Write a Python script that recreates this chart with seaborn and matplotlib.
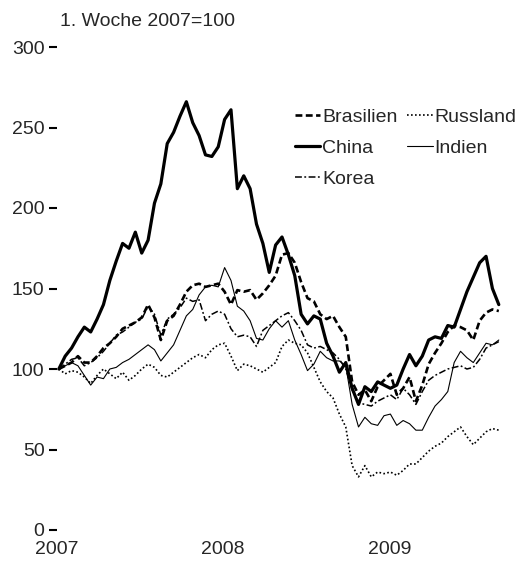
import numpy as np
import pandas as pd
import seaborn as sns
import matplotlib.pyplot as plt

# two-weekly index values, 1st week 2007 = 100
dates = pd.date_range("2007-01-05", periods=70, freq="14D")

brasilien = [100, 102, 104, 108, 104, 104, 108, 113, 116, 120, 125, 127, 129, 132, 140, 132, 118, 130,
             133, 140, 148, 152, 153, 151, 152, 153, 148, 140, 149, 148, 149, 143, 147, 152, 158, 171,
             172, 166, 154, 144, 142, 134, 131, 133, 126, 120, 92, 84, 87, 80, 89, 93, 97, 84,
             88, 95, 80, 90, 103, 110, 116, 123, 127, 126, 124, 118, 130, 135, 137, 136]
china = [100, 108, 113, 120, 126, 123, 131, 140, 155, 167, 178, 175, 185, 172, 180, 203, 215, 240,
         247, 257, 266, 253, 245, 233, 232, 238, 255, 261, 212, 220, 212, 190, 178, 160, 177, 182,
         171, 158, 134, 128, 133, 131, 116, 108, 98, 104, 88, 78, 89, 86, 92, 90, 88, 90,
         100, 109, 102, 108, 118, 120, 119, 127, 126, 137, 148, 157, 166, 170, 150, 140]
korea = [100, 103, 106, 107, 102, 104, 107, 111, 116, 121, 123, 126, 129, 131, 139, 134, 121, 131,
         134, 138, 144, 142, 143, 130, 134, 136, 134, 125, 120, 121, 120, 114, 124, 127, 130, 133,
         135, 130, 124, 115, 113, 114, 112, 110, 106, 100, 87, 79, 78, 77, 80, 82, 84, 81,
         88, 84, 78, 86, 93, 96, 98, 100, 101, 102, 100, 101, 106, 113, 115, 117]
russland = [100, 97, 99, 98, 95, 91, 96, 100, 97, 94, 98, 93, 96, 100, 103, 101, 96, 95,
            98, 101, 104, 107, 109, 107, 112, 115, 116, 108, 99, 103, 102, 100, 98, 101, 104, 114,
            118, 116, 115, 110, 101, 92, 86, 82, 72, 64, 40, 33, 40, 33, 36, 35, 36, 34,
            37, 41, 41, 45, 49, 52, 54, 58, 61, 64, 58, 53, 57, 61, 63, 62]
indien = [100, 102, 104, 102, 96, 90, 95, 94, 100, 101, 104, 106, 109, 112, 115, 112, 105, 110,
          115, 124, 133, 137, 146, 151, 152, 151, 163, 155, 139, 136, 130, 119, 118, 125, 130, 126,
          130, 118, 109, 99, 103, 111, 107, 105, 105, 102, 78, 64, 70, 66, 65, 71, 72, 65,
          68, 66, 62, 62, 70, 77, 81, 86, 104, 111, 107, 104, 110, 116, 115, 118]

y_ticks = [0, 50, 100, 150, 200, 250, 300]
year_ticks = ["2007", "2008", "2009"]

series = {
    "Brasilien": (brasilien, 1.9, (0, (2.6, 1.3))),
    "China": (china, 2.3, "-"),
    "Korea": (korea, 1.1, (0, (4.5, 1.6, 1.2, 1.6))),
    "Russland": (russland, 1.2, (0, (1, 1.4))),
    "Indien": (indien, 0.8, "-"),
}

sns.set_style("white")
plt.rcParams["font.family"] = ["Liberation Sans", "DejaVu Sans"]
fs = 14

fig = plt.figure(figsize=(5.2, 5.61), dpi=100)
ax = fig.add_axes([57 / 520, 31 / 561, 450 / 520, 483 / 561])

handles = {}
for name, (vals, lw, ls) in series.items():
    sns.lineplot(x=dates, y=vals, ax=ax, color="black", linewidth=lw, linestyle=ls, label=name)
    handles[name] = ax.get_lines()[-1]

ax.set_xlim(pd.Timestamp("2007-01-01"), pd.Timestamp("2009-09-15"))
ax.set_ylim(0, 300)
ax.set_yticks(y_ticks)
ax.set_xticks([pd.Timestamp(y + "-01-01") for y in year_ticks])
ax.set_xticklabels(year_ticks)
ax.set_xlabel("")
ax.set_ylabel("")
ax.tick_params(axis="y", left=True, length=6, width=1.5, direction="out", pad=3,
               labelsize=fs, color="black")
ax.tick_params(axis="x", bottom=False, length=0, pad=8, labelsize=fs)
sns.despine(left=True, bottom=True)

fig.text(60 / 520, 1 - 22 / 561, "1. Woche 2007=100", fontsize=fs, va="center", ha="left")

order = ["Brasilien", "China", "Korea", "Russland", "Indien"]
ax.legend([handles[n] for n in order], order, ncol=2, frameon=False, fontsize=fs,
          loc="upper left", bbox_to_anchor=(295 / 520, 1 - 108 / 561), bbox_transform=fig.transFigure,
          borderpad=0, borderaxespad=0, handlelength=1.3, handletextpad=0.1,
          columnspacing=0.5, labelspacing=0.7)

fig.savefig("out.png", dpi=100)
